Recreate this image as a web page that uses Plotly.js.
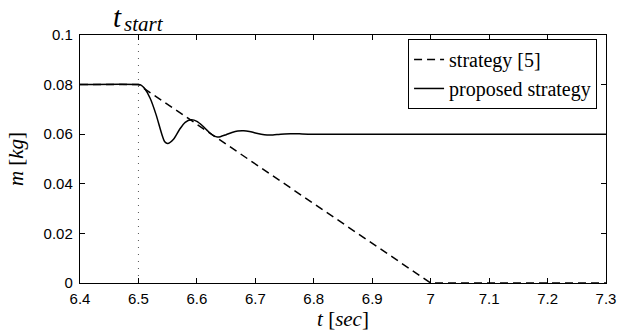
<!DOCTYPE html>
<html>
<head>
<meta charset="utf-8">
<script src="https://cdn.plot.ly/plotly-3.0.1.min.js"></script>
<style>html,body{margin:0;padding:0;background:#fff;}#chart{width:632px;height:333px;}</style>
</head>
<body>
<div id="chart"></div>
<script>
// Data
const tStart = 6.5;
const tRef = [6.40, 6.50, 7.00, 7.30];
const mRef = [0.08, 0.08, 0.00, 0.00];
const tProp = [6.40,6.50,6.505,6.51,6.52,6.53,6.54,6.545,6.55,6.56,6.57,6.58,6.59,6.60,6.61,6.62,6.63,6.635,6.64,6.65,6.66,6.67,6.68,6.69,6.70,6.71,6.72,6.73,6.74,6.75,6.76,6.77,6.78,6.80,6.85,6.90,7.00,7.30];
const mProp = [0.0800,0.0800,0.0797,0.0786,0.0745,0.0680,0.0600,0.0570,0.0563,0.0580,0.0618,0.0648,0.0658,0.0652,0.0633,0.0610,0.0592,0.0589,0.0590,0.0598,0.0607,0.0613,0.0614,0.0611,0.0605,0.0600,0.0597,0.0597,0.0599,0.0601,0.0602,0.0602,0.0601,0.0600,0.0600,0.0600,0.0600,0.0600];
const xTickVals = [6.4,6.5,6.6,6.7,6.8,6.9,7.0,7.1,7.2,7.3];
const xTickText = ['6.4','6.5','6.6','6.7','6.8','6.9','7','7.1','7.2','7.3'];
const yTickVals = [0,0.02,0.04,0.06,0.08,0.1];
const yTickText = ['0','0.02','0.04','0.06','0.08','0.1'];
const names = ['strategy [5]', 'proposed strategy'];
const startLabel = ['t', 'start'];

const serif = '"Liberation Serif", "DejaVu Serif", serif';
const sans = '"Liberation Sans", Arial, sans-serif';

const traces = [
  {x: tRef, y: mRef, name: names[0], mode: 'lines', line: {color: '#000', width: 1.5, dash: '8px,5px'}},
  {x: tProp, y: mProp, name: names[1], mode: 'lines', line: {color: '#000', width: 1.5, shape: 'spline', smoothing: 0.8}}
];

const layout = {
  width: 632, height: 333,
  margin: {l: 80, r: 26, t: 35, b: 50},
  paper_bgcolor: '#fff', plot_bgcolor: '#fff',
  showlegend: true,
  legend: {x: 0.983, y: 0.984, xanchor: 'right', yanchor: 'top', bordercolor: '#000', borderwidth: 1,
           bgcolor: '#fff', font: {family: serif, size: 20, color: '#000'}, tracegroupgap: 0},
  xaxis: {range: [6.4, 7.3], tickvals: xTickVals, ticktext: xTickText, ticks: 'inside', ticklen: 5,
          tickcolor: '#000', showline: true, linecolor: '#000', linewidth: 1.2, mirror: 'ticks',
          showgrid: false, zeroline: false, tickfont: {family: sans, size: 15, color: '#000'},
          ticklabelstandoff: 2,
          title: {text: '<i>t</i> [<i>sec</i>]', font: {family: serif, size: 21, color: '#000'}, standoff: 1}},
  yaxis: {range: [0, 0.1], tickvals: yTickVals, ticktext: yTickText, ticks: 'inside', ticklen: 5,
          tickcolor: '#000', showline: true, linecolor: '#000', linewidth: 1.2, mirror: 'ticks',
          showgrid: false, zeroline: false, tickfont: {family: sans, size: 15, color: '#000'},
          ticklabelstandoff: 3,
          title: {text: '<i>m</i> [<i>kg</i>]', font: {family: serif, size: 21, color: '#000'}, standoff: 14}},
  shapes: [
    {type: 'line', xref: 'x', yref: 'paper', x0: tStart, x1: tStart, y0: 0, y1: 1,
     line: {color: '#555', width: 1, dash: '1px,6px'}, layer: 'below'}
  ],
  annotations: [
    {x: tStart, xref: 'x', y: 1, yref: 'paper', yanchor: 'bottom', xanchor: 'left', showarrow: false,
     text: '<i>' + startLabel[0] + '</i>', font: {family: serif, size: 29, color: '#000'},
     xshift: -27, yshift: 0},
    {x: tStart, xref: 'x', y: 1, yref: 'paper', yanchor: 'bottom', xanchor: 'left', showarrow: false,
     text: '<i>' + startLabel[1] + '</i>', font: {family: serif, size: 21, color: '#000'},
     xshift: -16, yshift: -3}
  ]
};

Plotly.newPlot('chart', traces, layout, {displayModeBar: false, staticPlot: true});
</script>
</body>
</html>
